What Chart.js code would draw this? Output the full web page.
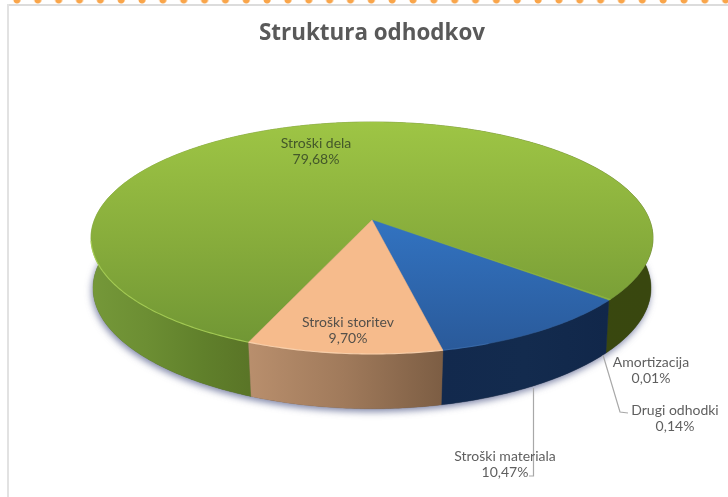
<!DOCTYPE html>
<html><head><meta charset="utf-8">
<script src="https://cdn.jsdelivr.net/npm/chart.js@4"></script>
<style>
html,body{margin:0;padding:0;background:#fff;width:728px;height:497px;overflow:hidden}
#dots{position:absolute;left:0;top:-3px;width:728px;height:8px;background-image:radial-gradient(circle at 17px 3px,#f9a54a 0,#f9a54a 3px,rgba(249,165,74,0) 4px);background-size:20.85px 8px;background-repeat:repeat-x}
#frameT{position:absolute;left:7px;top:4px;right:0;height:2px;background:#dcdcdc}
#frameL{position:absolute;left:7px;top:4px;bottom:0;width:2px;background:#e2e2e2}
#wrap{position:absolute;left:16px;top:0;width:712px;height:497px;filter:blur(.35px)}
</style></head>
<body>
<div id="dots"></div><div id="frameT"></div><div id="frameL"></div>
<div id="wrap"><canvas id="c" width="712" height="497"></canvas></div>
<script>
const chartTitle = 'Struktura odhodkov';
const categories = ['Stroški dela','Amortizacija','Drugi odhodki','Stroški materiala','Stroški storitev'];
const shares = [79.68,0.01,0.14,10.47,9.70];
const topColors = ['#8db43e','#8db43e','#8db43e','#2d66ad','#f6bb8c'];

const CY=220, A=277.6, B=113.2, K=0.155;
const proj=(a)=>{const u=Math.cos(a),v=Math.sin(a),w=1-K*v;return [A*u/w,CY+B*v/w];};
const projBottom=(a)=>{const p=proj(a),t=Math.abs(p[0])/281;return [p[0]*(0.975+0.018*t*t),p[1]+50+(p[1]-235)*0.04];};
const steps=(s,e)=>Math.max(2,Math.ceil((e-s)*80));
function arcPts(fn,s,e,cx){const n=steps(s,e),r=[];for(let i=0;i<=n;i++){const p=fn(s+(e-s)*i/n);r.push([cx+p[0],p[1]]);}return r;}
function trace(ctx,pts,first){pts.forEach((p,i)=>{if(i===0&&first)ctx.moveTo(p[0],p[1]);else ctx.lineTo(p[0],p[1]);});}
function grad(ctx,x0,y0,x1,y1,stops){const g=ctx.createLinearGradient(x0,y0,x1,y1);stops.forEach(s=>g.addColorStop(s[0],s[1]));return g;}

const labelSpots=[
 {x:300,y:143,c:'#44582a'},{x:635,y:362,c:'#5f5f5f'},{x:659,y:410,c:'#5f5f5f'},
 {x:489,y:456,c:'#5f5f5f'},{x:332,y:322,c:'#54504a'}];

const pie3d={id:'pie3d',
 beforeDatasetsDraw(chart){
  const ctx=chart.ctx, arcs=chart.getDatasetMeta(0).data, cx=chart.width/2;
  const L=cx-281,R=cx+281;
  const wall=[
   grad(ctx,L,0,R,0,[[0,'#759839'],[.1,'#6c8e33'],[.2,'#60802b'],[.28,'#5a7527'],[.5,'#4f6622'],[.8,'#39480f'],[1,'#39470f']]),
   '#39470f','#39470f',
   grad(ctx,cx+69,0,cx+236,0,[[0,'#12294d'],[.5,'#132b4e'],[1,'#11274a']]),
   grad(ctx,cx-125,0,cx+69,0,[[0,'#b98f6d'],[.5,'#a07a5b'],[1,'#7d5e44']])];
  const top=[
   grad(ctx,0,122,0,350,[[0,'#9ec545'],[.55,'#86ab3b'],[1,'#6f9534']]),
   '#8db43e','#8db43e',
   grad(ctx,0,220,0,350,[[0,'#3273c1'],[1,'#2a5a9a']]),
   topColors[4]];
  const rim=['rgba(175,215,90,.8)','rgba(175,215,90,.8)','rgba(175,215,90,.8)','rgba(70,125,195,.5)','rgba(252,215,180,.8)'];
  // soft shadow of the whole body, under the walls
  const first=arcs[0].startAngle, full=first+Math.PI*2;
  ctx.save();
  ctx.shadowColor='rgba(85,95,140,.75)';ctx.shadowBlur=7;ctx.shadowOffsetX=-1;ctx.shadowOffsetY=3;
  ctx.beginPath();trace(ctx,arcPts(projBottom,first,full,cx),true);ctx.closePath();
  ctx.fillStyle='#555';ctx.fill();
  ctx.restore();
  // walls
  arcs.forEach((a,i)=>{
   ctx.beginPath();
   trace(ctx,arcPts(proj,a.startAngle,a.endAngle,cx),true);
   trace(ctx,arcPts(projBottom,a.startAngle,a.endAngle,cx).reverse(),false);
   ctx.closePath();ctx.fillStyle=wall[i];ctx.fill();
   ctx.strokeStyle=wall[i];ctx.lineWidth=.4;ctx.stroke();
  });
  // top faces
  arcs.forEach((a,i)=>{
   ctx.beginPath();ctx.moveTo(cx,CY);
   trace(ctx,arcPts(proj,a.startAngle,a.endAngle,cx),false);
   ctx.closePath();ctx.fillStyle=top[i];ctx.fill();
   ctx.strokeStyle=top[i];ctx.lineWidth=.5;ctx.stroke();
  });
  // front rim highlight, only on the lit left and front of the rim
  arcs.forEach((a,i)=>{
   const pts=arcPts(proj,a.startAngle,a.endAngle,cx);
   ctx.beginPath();
   let pen=false;
   pts.forEach(p=>{
    if(p[1]>240 && p[0]<cx+120){ if(pen) ctx.lineTo(p[0],p[1]); else ctx.moveTo(p[0],p[1]); pen=true; }
    else pen=false;
   });
   ctx.strokeStyle=rim[i];ctx.lineWidth=1.1;ctx.stroke();
  });
  return false;
 },
 afterDraw(chart){
  const ctx=chart.ctx;
  ctx.save();
  ctx.strokeStyle='#a8a8a8';ctx.lineWidth=1.2;
  ctx.beginPath();ctx.moveTo(587,355);ctx.lineTo(604,412);ctx.lineTo(612,413);ctx.stroke();
  ctx.beginPath();ctx.moveTo(517.5,388);ctx.lineTo(517.5,476);ctx.lineTo(513,476);ctx.stroke();
  ctx.textAlign='center';ctx.textBaseline='middle';ctx.font='14px Lato';
  categories.forEach((name,i)=>{
   const s=labelSpots[i];
   ctx.fillStyle=s.c;
   ctx.fillText(name,s.x,s.y);
   ctx.fillText(shares[i].toFixed(2).replace('.',',')+'%',s.x,s.y+16.5);
  });
  ctx.restore();
 }};

new Chart(document.getElementById('c'),{
 type:'pie',
 data:{labels:categories,datasets:[{data:shares,backgroundColor:topColors,borderWidth:0}]},
 options:{responsive:false,animation:false,rotation:202.4,events:[],
  plugins:{legend:{display:false},tooltip:{enabled:false},
   title:{display:true,text:chartTitle,color:'#595959',font:{family:'"Open Sans"',size:22.4,weight:'bold'},padding:{top:20,bottom:0}}}},
 plugins:[pie3d]});
</script>
</body></html>
